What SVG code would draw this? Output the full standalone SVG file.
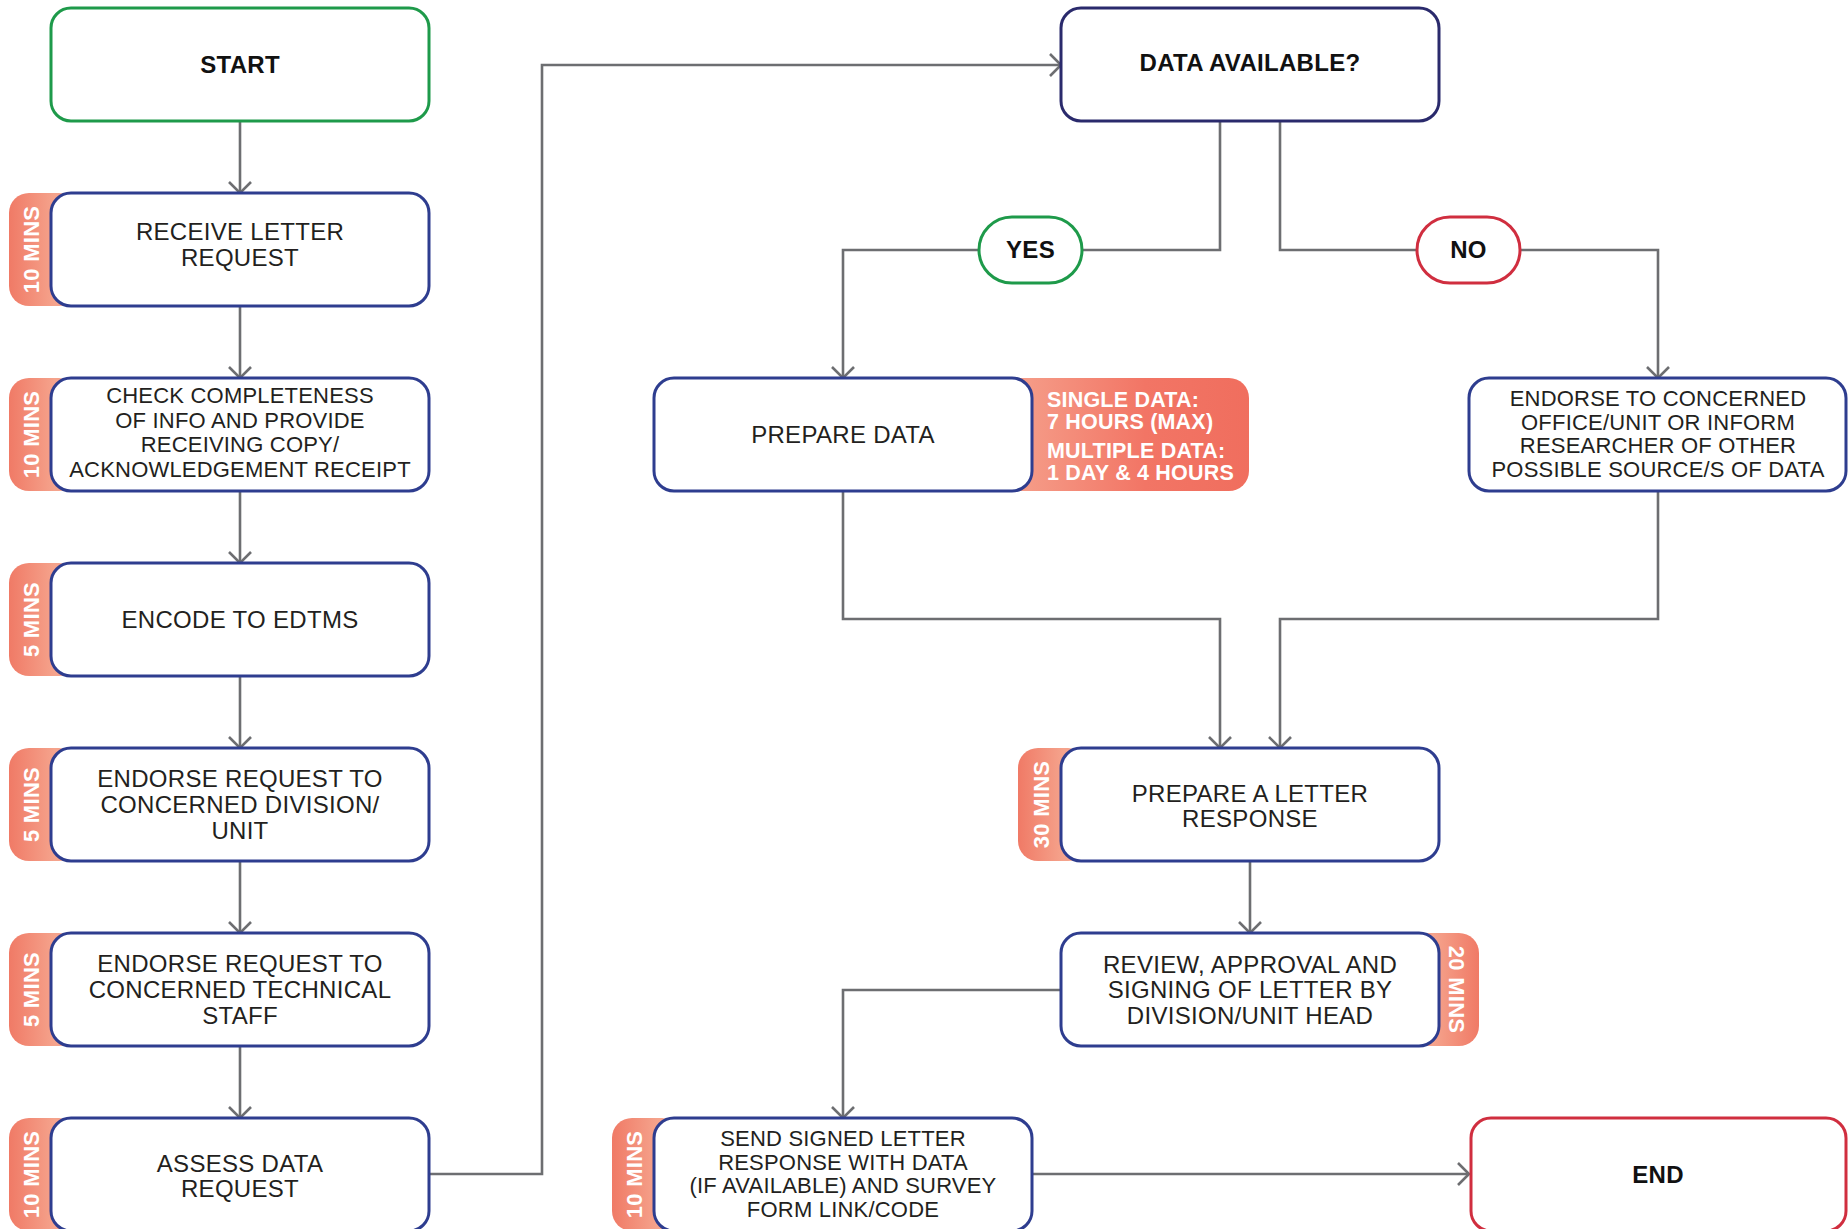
<svg xmlns="http://www.w3.org/2000/svg" width="1848" height="1229" viewBox="0 0 1848 1229">
<defs>
<linearGradient id="gl" x1="0" y1="0" x2="1" y2="0"><stop offset="0" stop-color="#f07a66"/><stop offset="0.65" stop-color="#f5a38c"/></linearGradient>
<linearGradient id="gr" x1="0" y1="0" x2="1" y2="0"><stop offset="0.35" stop-color="#f5a38c"/><stop offset="1" stop-color="#f07a66"/></linearGradient>
<linearGradient id="gw" x1="0" y1="0" x2="1" y2="0"><stop offset="0.15" stop-color="#f59a86"/><stop offset="0.6" stop-color="#f27565"/><stop offset="1" stop-color="#f06e5e"/></linearGradient>
<marker id="arr" viewBox="-13 -13 15 26" markerWidth="15" markerHeight="26" markerUnits="userSpaceOnUse" orient="auto" refX="0" refY="0"><path d="M-11,-11 L0,0 L-11,11" fill="none" stroke="#6d6e71" stroke-width="2.6"/></marker>
</defs>
<style>
.box{fill:#fff;stroke:#2e3d8f;stroke-width:3}
.da{fill:#fff;stroke:#2a2a6c;stroke-width:3}
.gr{fill:#fff;stroke:#1e9a4a;stroke-width:3}
.rd{fill:#fff;stroke:#d02e3f;stroke-width:3}
.t{font-family:"Liberation Sans",Arial,sans-serif;font-size:24px;fill:#231f20;text-anchor:middle;letter-spacing:0.3px}
.s{font-size:22px;letter-spacing:0.2px}
.b{font-family:"Liberation Sans",Arial,sans-serif;font-weight:bold;font-size:24px;fill:#111;text-anchor:middle;letter-spacing:0.3px}
.bt{font-family:"Liberation Sans",Arial,sans-serif;font-weight:bold;font-size:22px;fill:#fff;text-anchor:middle;letter-spacing:0.3px}
.bw{font-family:"Liberation Sans",Arial,sans-serif;font-weight:bold;font-size:21.5px;fill:#fff;letter-spacing:0.2px}
.c{fill:none;stroke:#6d6e71;stroke-width:2.6}
</style>
<rect width="1848" height="1229" fill="#fff"/>
<g id="connectors">
<path class="c" d="M240,121 V193" marker-end="url(#arr)"/>
<path class="c" d="M240,306 V378" marker-end="url(#arr)"/>
<path class="c" d="M240,491 V563" marker-end="url(#arr)"/>
<path class="c" d="M240,676 V748" marker-end="url(#arr)"/>
<path class="c" d="M240,861 V933" marker-end="url(#arr)"/>
<path class="c" d="M240,1046 V1118" marker-end="url(#arr)"/>
<path class="c" d="M429,1174 H542 V65 H1061" marker-end="url(#arr)"/>
<path class="c" d="M1220,121 V250 H1082"/>
<path class="c" d="M979,250 H843 V378" marker-end="url(#arr)"/>
<path class="c" d="M1280,121 V250 H1417"/>
<path class="c" d="M1520,250 H1658 V378" marker-end="url(#arr)"/>
<path class="c" d="M843,491 V619 H1220 V748" marker-end="url(#arr)"/>
<path class="c" d="M1658,491 V619 H1280 V748" marker-end="url(#arr)"/>
<path class="c" d="M1250,861 V933" marker-end="url(#arr)"/>
<path class="c" d="M1061,990 H843 V1118" marker-end="url(#arr)"/>
<path class="c" d="M1032,1174 H1469" marker-end="url(#arr)"/>
</g>
<g id="start">
<rect class="gr" x="51" y="8" width="378" height="113" rx="20"/>
<text class="b" x="240" y="73">START</text>
</g>
<g id="receive">
<rect x="9" y="193" width="70" height="113" rx="20" fill="url(#gl)"/>
<rect class="box" x="51" y="193" width="378" height="113" rx="20"/>
<text class="bt" transform="translate(31,249.5) rotate(-90)" y="8">10 MINS</text>
<text class="t" x="240" y="240">RECEIVE LETTER</text>
<text class="t" x="240" y="266">REQUEST</text>
</g>
<g id="check">
<rect x="9" y="378" width="70" height="113" rx="20" fill="url(#gl)"/>
<rect class="box" x="51" y="378" width="378" height="113" rx="20"/>
<text class="bt" transform="translate(31,434.5) rotate(-90)" y="8">10 MINS</text>
<text class="t s" x="240" y="403">CHECK COMPLETENESS</text>
<text class="t s" x="240" y="428">OF INFO AND PROVIDE</text>
<text class="t s" x="240" y="452">RECEIVING COPY/</text>
<text class="t s" x="240" y="477">ACKNOWLEDGEMENT RECEIPT</text>
</g>
<g id="encode">
<rect x="9" y="563" width="70" height="113" rx="20" fill="url(#gl)"/>
<rect class="box" x="51" y="563" width="378" height="113" rx="20"/>
<text class="bt" transform="translate(31,619.5) rotate(-90)" y="8">5 MINS</text>
<text class="t" x="240" y="628">ENCODE TO EDTMS</text>
</g>
<g id="endorse-division">
<rect x="9" y="748" width="70" height="113" rx="20" fill="url(#gl)"/>
<rect class="box" x="51" y="748" width="378" height="113" rx="20"/>
<text class="bt" transform="translate(31,804.5) rotate(-90)" y="8">5 MINS</text>
<text class="t" x="240" y="787">ENDORSE REQUEST TO</text>
<text class="t" x="240" y="813">CONCERNED DIVISION/</text>
<text class="t" x="240" y="839">UNIT</text>
</g>
<g id="endorse-staff">
<rect x="9" y="933" width="70" height="113" rx="20" fill="url(#gl)"/>
<rect class="box" x="51" y="933" width="378" height="113" rx="20"/>
<text class="bt" transform="translate(31,989.5) rotate(-90)" y="8">5 MINS</text>
<text class="t" x="240" y="972">ENDORSE REQUEST TO</text>
<text class="t" x="240" y="998">CONCERNED TECHNICAL</text>
<text class="t" x="240" y="1024">STAFF</text>
</g>
<g id="assess">
<rect x="9" y="1118" width="70" height="113" rx="20" fill="url(#gl)"/>
<rect class="box" x="51" y="1118" width="378" height="113" rx="20"/>
<text class="bt" transform="translate(31,1174.5) rotate(-90)" y="8">10 MINS</text>
<text class="t" x="240" y="1172">ASSESS DATA</text>
<text class="t" x="240" y="1197">REQUEST</text>
</g>
<g id="data-available">
<rect class="da" x="1061" y="8" width="378" height="113" rx="20"/>
<text class="b" x="1250" y="71">DATA AVAILABLE?</text>
</g>
<g id="yes">
<rect class="gr" x="979" y="217" width="103" height="66" rx="33"/>
<text class="b" x="1030.5" y="258">YES</text>
</g>
<g id="no">
<rect class="rd" x="1417" y="217" width="103" height="66" rx="33"/>
<text class="b" x="1468.5" y="258">NO</text>
</g>
<g id="prepare-data">
<rect x="990" y="378" width="259" height="113" rx="20" fill="url(#gw)"/>
<rect class="box" x="654" y="378" width="378" height="113" rx="20"/>
<text class="t" x="843" y="443">PREPARE DATA</text>
<text class="bw" x="1047" y="407">SINGLE DATA:</text>
<text class="bw" x="1047" y="429">7 HOURS (MAX)</text>
<text class="bw" x="1047" y="458">MULTIPLE DATA:</text>
<text class="bw" x="1047" y="480">1 DAY &amp; 4 HOURS</text>
</g>
<g id="endorse-office">
<rect class="box" x="1469" y="378" width="377" height="113" rx="20"/>
<text class="t s" x="1658" y="406">ENDORSE TO CONCERNED</text>
<text class="t s" x="1658" y="430">OFFICE/UNIT OR INFORM</text>
<text class="t s" x="1658" y="453">RESEARCHER OF OTHER</text>
<text class="t s" x="1658" y="477">POSSIBLE SOURCE/S OF DATA</text>
</g>
<g id="prepare-letter">
<rect x="1018" y="748" width="70" height="113" rx="20" fill="url(#gl)"/>
<rect class="box" x="1061" y="748" width="378" height="113" rx="20"/>
<text class="bt" transform="translate(1041,804.5) rotate(-90)" y="8">30 MINS</text>
<text class="t" x="1250" y="802">PREPARE A LETTER</text>
<text class="t" x="1250" y="827">RESPONSE</text>
</g>
<g id="review">
<rect x="1409" y="933" width="70" height="113" rx="20" fill="url(#gr)"/>
<rect class="box" x="1061" y="933" width="378" height="113" rx="20"/>
<text class="bt" transform="translate(1457,989.5) rotate(90)" y="8">20 MINS</text>
<text class="t" x="1250" y="973">REVIEW, APPROVAL AND</text>
<text class="t" x="1250" y="998">SIGNING OF LETTER BY</text>
<text class="t" x="1250" y="1024">DIVISION/UNIT HEAD</text>
</g>
<g id="send">
<rect x="612" y="1118" width="70" height="113" rx="20" fill="url(#gl)"/>
<rect class="box" x="654" y="1118" width="378" height="113" rx="20"/>
<text class="bt" transform="translate(634,1174.5) rotate(-90)" y="8">10 MINS</text>
<text class="t s" x="843" y="1146">SEND SIGNED LETTER</text>
<text class="t s" x="843" y="1170">RESPONSE WITH DATA</text>
<text class="t s" x="843" y="1193">(IF AVAILABLE) AND SURVEY</text>
<text class="t s" x="843" y="1217">FORM LINK/CODE</text>
</g>
<g id="end">
<rect class="rd" x="1471" y="1118" width="375" height="113" rx="20"/>
<text class="b" x="1658" y="1183">END</text>
</g>
</svg>
